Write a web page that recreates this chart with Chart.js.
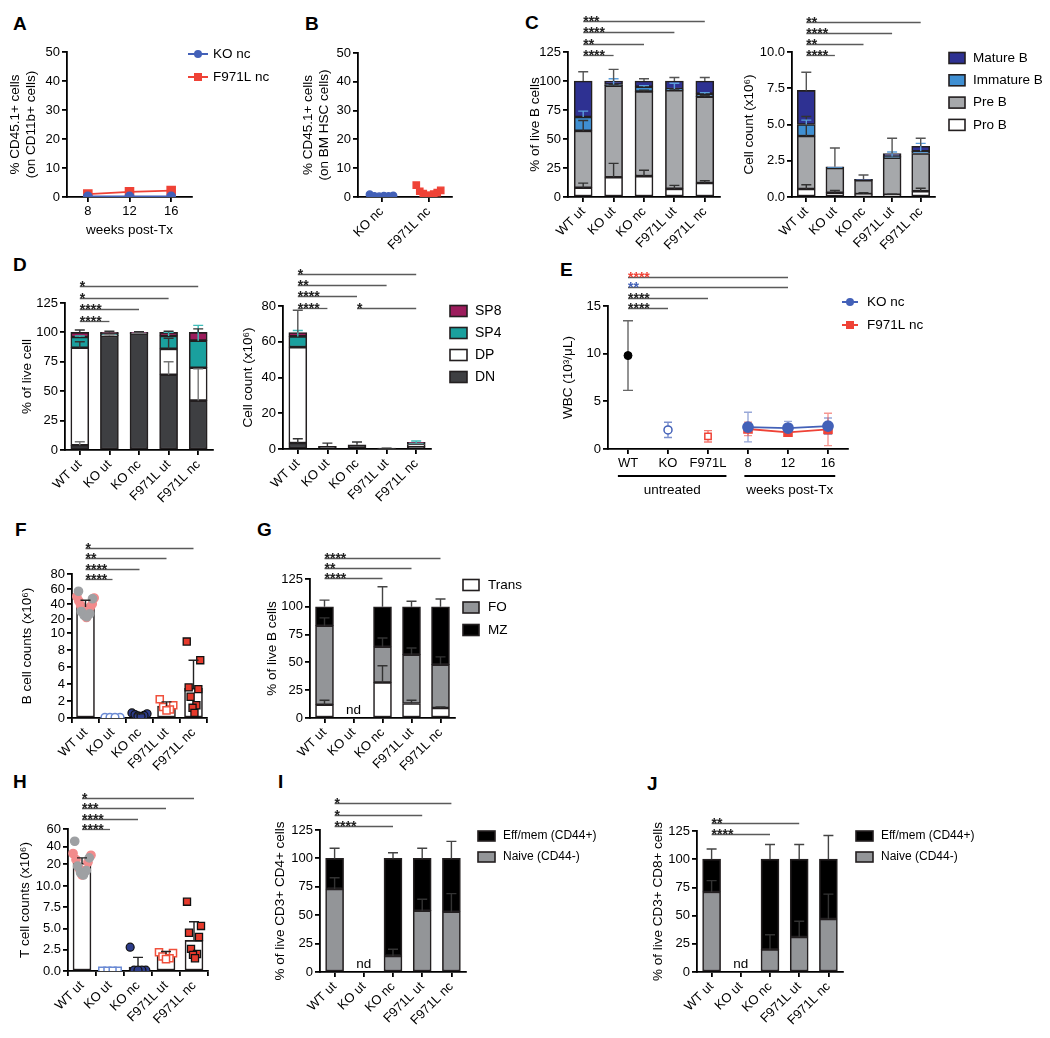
<!DOCTYPE html>
<html>
<head>
<meta charset="utf-8">
<title>Figure</title>
<script src="https://cdn.jsdelivr.net/npm/chart.js@4.4.1/dist/chart.umd.min.js"></script>
<style>
html,body{margin:0;padding:0;background:#fff;}
body{position:relative;width:1050px;height:1038px;overflow:hidden;font-family:Arial,"Liberation Sans",Helvetica,sans-serif;}
canvas{position:absolute;}
.pl{position:absolute;font-weight:bold;font-size:19px;line-height:1;color:#000;}
</style>
</head>
<body>
<div class="pl" style="left:13px;top:14px">A</div>
<div class="pl" style="left:305px;top:14px">B</div>
<div class="pl" style="left:525px;top:13px">C</div>
<div class="pl" style="left:13px;top:255px">D</div>
<div class="pl" style="left:560px;top:260px">E</div>
<div class="pl" style="left:15px;top:520px">F</div>
<div class="pl" style="left:257px;top:520px">G</div>
<div class="pl" style="left:13px;top:772px">H</div>
<div class="pl" style="left:278px;top:772px">I</div>
<div class="pl" style="left:647px;top:774px">J</div>
<script>
const FONT = 'Arial, "Liberation Sans", Helvetica, sans-serif';

// ================= DATA =================
const groups = ['WT ut', 'KO ut', 'KO nc', 'F971L ut', 'F971L nc'];
const ncGroups = ['KO nc', 'F971L nc'];
const weeks = ['8', '12', '16'];
const wbcCats = ['WT', 'KO', 'F971L', '8', '12', '16'];

// A: % CD45.1+ on CD11b+ cells
const aKOnc = [0.2, 0.2, 0.2];
const aF971Lnc = [1.0, 1.8, 2.2];

// B: % CD45.1+ on BM HSC cells
const bKOnc = [0.9, 0.5, 0.3, 0.3, 0.2, 0.4];
const bF971Lnc = [4.1, 2.3, 2.0, 1.5, 1.2, 1.0, 0.6, 0.4];

// C: % of live B cells
const cPctProB = [8, 17, 18, 7, 12];
const cPctPreB = [49, 79, 73, 85, 74.5];
const cPctImmB = [12, 1, 4, 1, 2.5];
const cPctMatB = [31, 3, 5, 7, 11];
const cPctProBErr = [4, 12, 5, 3, 2];
const cPctPreBErr = [9, 1, 1, 1, 1];
const cPctImmBErr = [5, 5, 1, 5, 1];
const cPctMatBErr = [8, 10, 2, 3, 3];

// C: cell count (x10^6)
const cCntProB = [0.55, 0.3, 0.2, 0.15, 0.4];
const cCntPreB = [3.65, 1.7, 0.95, 2.55, 2.6];
const cCntImmB = [0.8, 0.05, 0.05, 0.1, 0.15];
const cCntMatB = [2.35, 0.03, 0.02, 0.2, 0.35];
const cCntProBErr = [0.3, 0.15, 0.1, 0.05, 0.2];
const cCntPreBErr = [1.35, 0, 0, 0, 0];
const cCntImmBErr = [0.3, 0, 0, 0.3, 0.55];
const cCntMatBErr = [1.25, 1.3, 0.3, 1.05, 0.55];

// D: % of live cell
const dPctDN = [4, 97, 99, 64, 42];
const dPctDP = [83, 0.5, 0.3, 22, 28];
const dPctSP4 = [9, 1.5, 0.4, 11, 23];
const dPctSP8 = [4, 1, 0.3, 3, 7];
const dPctDNErr = [3, 1, 0.5, 11, 27];
const dPctDPErr = [5, 0, 0, 9, 0];
const dPctSP4Err = [1, 0, 0, 3, 13];
const dPctSP8Err = [2, 1, 0.5, 1, 3];

// D: cell count (x10^6)
const dCntDN = [3.3, 1.5, 2.4, 0.2, 1.5];
const dCntDP = [53.7, 0, 0, 0, 1.0];
const dCntSP4 = [6, 0, 0, 0, 0.9];
const dCntSP8 = [2.2, 0, 0, 0, 0.3];
const dCntDNErr = [2.4, 1.8, 1.5, 0.2, 0];
const dCntSP4Err = [3.3, 0, 0, 0, 1.1];
const dCntSP8Err = [12.4, 0, 0, 0, 0];

// E: WBC (10^3/uL)
const eUntreatedMean = [9.8, 2.0, 1.33];
const eUntreatedSD = [3.65, 0.8, 0.6];
const eKOncMean = [2.3, 2.2, 2.4];
const eKOncSD = [1.55, 0.7, 0.85];
const eF971LncMean = [2.1, 1.75, 2.05];
const eF971LncSD = [0.7, 0.35, 1.7];

// F: B cell counts (x10^6)
const fTickValues = [0, 2, 4, 6, 8, 10, 20, 40, 60, 80];
const fBarMean = [36, 0.05, 0.35, 1.4, 3.5];
const fBarSD = [9, 0, 0.15, 0.5, 3.3];
const fWTgrey = [57, 47, 30, 27, 25, 23];
const fWTpink = [50, 48, 44, 40, 38, 36, 33, 30, 28, 22];
const fKOut = [0.08, 0.08, 0.08, 0.08];
const fKOnc = [0.6, 0.5, 0.4, 0.3, 0.25, 0.2];
const fF971Lut = [2.2, 1.5, 1.3, 1.0, 0.9];
const fF971Lnc = [9.0, 6.8, 3.6, 3.4, 2.5, 1.5, 1.2, 0.6];

// G: % of live B cells (spleen)
const gTrans = [12, null, 32, 13, 9];
const gFO = [71, null, 32, 44, 39];
const gMZ = [17, null, 36, 43, 52];
const gTransErr = [4, 0, 15, 3, 1];
const gFOErr = [7, 0, 8, 6, 7];
const gMZErr = [6, 0, 18, 5, 7];

// H: T cell counts (x10^6)
const hTickValues = [0, 2.5, 5, 7.5, 10, 20, 40, 60];
const hBarMean = [21, 0.05, 0.45, 2.0, 3.6];
const hBarSD = [6, 0, 1.15, 0.3, 2.2];
const hWTgrey = [46, 27, 19, 17, 16, 15];
const hWTpink = [32, 30, 25, 22, 18, 17, 15];
const hKOut = [0.05, 0.05, 0.05, 0.05];
const hKOnc = [2.8, 0.1, 0.1, 0.1, 0.1];
const hF971Lut = [2.2, 2.1, 1.7, 1.5, 1.4];
const hF971Lnc = [8.15, 5.3, 4.5, 4.0, 2.6, 2.0, 1.9, 1.5];

// I: % of live CD3+ CD4+ cells
const iNaive = [73, null, 14, 54, 53];
const iEff = [27, null, 86, 46, 47];
const iNaiveErr = [10, 0, 6, 10, 16];
const iEffErr = [9, 0, 5, 9, 15];

// J: % of live CD3+ CD8+ cells
const jNaive = [71, null, 20, 31, 47];
const jEff = [29, null, 80, 69, 53];
const jNaiveErr = [10, 0, 13, 14, 22];
const jEffErr = [9, 0, 13, 13, 21];

// significance annotations
const sigC1 = [{a:0,b:1,t:'****',row:0},{a:0,b:2,t:'**',row:1},{a:0,b:3,t:'****',row:2},{a:0,b:4,t:'***',row:3}];
const sigC2 = [{a:0,b:1,t:'****',row:0},{a:0,b:2,t:'**',row:1},{a:0,b:3,t:'****',row:2},{a:0,b:4,t:'**',row:3}];
const sigD1 = [{a:0,b:1,t:'****',row:0},{a:0,b:2,t:'****',row:1},{a:0,b:3,t:'*',row:2},{a:0,b:4,t:'*',row:3}];
const sigD2 = [{a:0,b:1,t:'****',row:0},{a:2,b:4,t:'*',row:0},{a:0,b:2,t:'****',row:1},{a:0,b:3,t:'**',row:2},{a:0,b:4,t:'*',row:3}];
const sigE = [{a:0,b:1,t:'****',row:0},{a:0,b:2,t:'****',row:1},{a:0,b:4,t:'**',row:2,color:'#4361B8'},{a:0,b:4,t:'****',row:3,color:'#EF4236'}];
const sigF = [{a:0,b:1,t:'****',row:0},{a:0,b:2,t:'****',row:1},{a:0,b:3,t:'**',row:2},{a:0,b:4,t:'*',row:3}];
const sigG = [{a:0,b:2,t:'****',row:0},{a:0,b:3,t:'**',row:1},{a:0,b:4,t:'****',row:2}];
const sigH = [{a:0,b:1,t:'****',row:0},{a:0,b:2,t:'****',row:1},{a:0,b:3,t:'***',row:2},{a:0,b:4,t:'*',row:3}];
const sigI = [{a:0,b:2,t:'****',row:0},{a:0,b:3,t:'*',row:1},{a:0,b:4,t:'*',row:2}];
const sigJ = [{a:0,b:2,t:'****',row:0},{a:0,b:3,t:'**',row:1}];

// ================= STYLE / LAYOUT =================
const COL = {
  mature:'#2E3192', immature:'#3F8FD2', pre:'#A6A8AB', pro:'#FFFFFF',
  sp8:'#9C1C5C', sp4:'#1AA09E', dp:'#FFFFFF', dn:'#3E3F42',
  trans:'#FFFFFF', fo:'#939598', mz:'#000000', eff:'#000000', naive:'#939598',
  blue:'#4361B8', red:'#EF4236', edge:'#231F20',
  wtGrey:'#9EA0A3', wtPink:'#F28B8C', koUt:'#6A8AD4', koNc:'#2D3C8A', fUt:'#F0503C', fNc:'#E63A2C'
};
const AXW = 1.8;
const GEO = {
  A:  {x0:67,  x1:192, y0:52,  y1:197, yW:60, xH:41, padT:12, padR:95},
  B:  {x0:358, x1:453, y0:52,  y1:197, yW:58, xH:75, padT:12, padR:12},
  C1: {x0:568, x1:720, y0:52,  y1:197, yW:41, xH:75, padT:48, padR:12},
  C2: {x0:792, x1:935, y0:52,  y1:197, yW:51, xH:75, padT:48, padR:112},
  D1: {x0:65,  x1:213, y0:303, y1:450, yW:46, xH:75, padT:26, padR:12},
  D2: {x0:283, x1:431, y0:306, y1:449, yW:43, xH:75, padT:45, padR:70},
  E:  {x0:608, x1:848, y0:306, y1:449, yW:48, xH:52, padT:42, padR:110},
  F:  {x0:72,  x1:207, y0:574, y1:718, yW:53, xH:75, padT:40, padR:12},
  G:  {x0:310, x1:455, y0:579, y1:718, yW:46, xH:75, padT:36, padR:80},
  H:  {x0:68,  x1:208, y0:829, y1:971, yW:51, xH:67, padT:45, padR:12},
  I:  {x0:320, x1:466, y0:830, y1:972, yW:48, xH:66, padT:40, padR:160},
  J:  {x0:697, x1:843, y0:831, y1:972, yW:47, xH:66, padT:20, padR:160}
};

Chart.defaults.font.family = FONT;
Chart.defaults.font.size = 13;
Chart.defaults.color = '#000';
Chart.defaults.animation = false;
Chart.defaults.events = [];
Chart.defaults.plugins.legend.display = false;
Chart.defaults.plugins.tooltip.enabled = false;

// ---- piecewise (broken) linear scale ----
class BrokenScale extends Chart.LinearScale {
  buildTicks() { return this.options.tickValues.map(v => ({value: v})); }
  _dec(v) {
    const vs = this.options.breaks.values, fs = this.options.breaks.fractions;
    let k = 1;
    while (k < vs.length - 1 && v > vs[k]) k++;
    return fs[k-1] + (v - vs[k-1]) / (vs[k] - vs[k-1]) * (fs[k] - fs[k-1]);
  }
  getPixelForValue(v) {
    if (v === null || v === undefined || isNaN(v)) return NaN;
    return this.getPixelForDecimal(this._dec(v));
  }
  getValueForPixel(p) {
    const d = this.getDecimalForPixel(p);
    const vs = this.options.breaks.values, fs = this.options.breaks.fractions;
    let k = 1;
    while (k < fs.length - 1 && d > fs[k]) k++;
    return vs[k-1] + (d - fs[k-1]) / (fs[k] - fs[k-1]) * (vs[k] - vs[k-1]);
  }
}
BrokenScale.id = 'broken';
BrokenScale.defaults = {};

// ---- plugins ----
function drawErr(chart) {
  const ctx = chart.ctx, ys = chart.scales.y;
  const stacked = !!chart.options.scales.y.stacked;
  const cum = [];
  chart.data.datasets.forEach((ds, i) => {
    const type = ds.type || chart.config.type;
    const meta = chart.getDatasetMeta(i);
    ds.data.forEach((raw, j) => {
      const v = (raw !== null && typeof raw === 'object') ? raw.y : raw;
      if (v === null || v === undefined) return;
      let top = v;
      if (type === 'bar' && stacked) { cum[j] = (cum[j] || 0) + v; top = cum[j]; }
      const up = ds.errUp ? (ds.errUp[j] || 0) : 0;
      const dn = ds.errDown ? (ds.errDown[j] || 0) : 0;
      if (!up && !dn) return;
      const el = meta.data[j]; if (!el) return;
      const x = el.x, cap = ds.errCap || 5;
      const yT = ys.getPixelForValue(top + up), yB = ys.getPixelForValue(top - dn);
      ctx.save();
      ctx.strokeStyle = ds.errColor || '#333';
      ctx.lineWidth = ds.errWidth || 1.4;
      ctx.beginPath();
      ctx.moveTo(x, yB); ctx.lineTo(x, yT);
      if (up) { ctx.moveTo(x - cap, yT); ctx.lineTo(x + cap, yT); }
      if (dn) { ctx.moveTo(x - cap, yB); ctx.lineTo(x + cap, yB); }
      ctx.stroke();
      ctx.restore();
    });
  });
}
const errPlugin = {
  id: 'errbars',
  beforeDatasetsDraw(chart, a, o) { if (o && o.behind) drawErr(chart); },
  afterDatasetsDraw(chart, a, o) { if (!(o && o.behind)) drawErr(chart); }
};
const sigPlugin = {
  id: 'sig',
  afterDraw(chart, a, o) {
    if (!o || !o.items) return;
    const ctx = chart.ctx, ca = chart.chartArea, xs = chart.scales.x;
    o.items.forEach(it => {
      const y = Math.round(ca.top + o.base - it.row * o.step) + 0.5;
      const xa = xs.getPixelForValue(it.a), xb = xs.getPixelForValue(it.b);
      ctx.save();
      ctx.strokeStyle = '#5a5a5a'; ctx.lineWidth = 1.3;
      ctx.beginPath(); ctx.moveTo(xa, y); ctx.lineTo(xb, y); ctx.stroke();
      ctx.fillStyle = it.color || '#222';
      ctx.font = 'bold 14px ' + FONT;
      ctx.textAlign = 'left'; ctx.textBaseline = 'alphabetic';
      ctx.fillText(it.t, xa, y + 4.5);
      ctx.restore();
    });
  }
};
function marker(ctx, style, x, y, r) {
  ctx.beginPath();
  if (style === 'rect') ctx.rect(x - r, y - r, 2 * r, 2 * r); else ctx.arc(x, y, r, 0, Math.PI * 2);
  ctx.fill();
}
const legPlugin = {
  id: 'leg',
  afterDraw(chart, a, o) {
    if (!o || !o.items) return;
    const ctx = chart.ctx, ca = chart.chartArea;
    o.items.forEach((di, k) => {
      const ds = chart.data.datasets[di];
      const x0 = ca.right + o.dx, cy = ca.top + o.dy + k * o.rowH;
      ctx.save();
      if (o.kind === 'box') {
        ctx.fillStyle = ds.backgroundColor;
        ctx.fillRect(x0, cy - o.boxH / 2, o.boxW, o.boxH);
        ctx.strokeStyle = COL.edge; ctx.lineWidth = 1.6;
        ctx.strokeRect(x0, cy - o.boxH / 2, o.boxW, o.boxH);
      } else {
        ctx.strokeStyle = ds.borderColor; ctx.lineWidth = 2;
        ctx.beginPath(); ctx.moveTo(x0, cy); ctx.lineTo(x0 + o.lineW, cy); ctx.stroke();
        ctx.fillStyle = ds.backgroundColor;
        marker(ctx, ds.pointStyle, x0 + o.lineW / 2, cy, 4);
      }
      ctx.fillStyle = '#000';
      ctx.font = o.size + 'px ' + FONT;
      ctx.textAlign = 'left'; ctx.textBaseline = 'middle';
      ctx.fillText(ds.label, x0 + o.textDx, cy);
      ctx.restore();
    });
  }
};
const ndPlugin = {
  id: 'nd',
  afterDraw(chart, a, o) {
    if (!o || o.idx === undefined) return;
    const ctx = chart.ctx;
    ctx.save();
    ctx.fillStyle = '#000'; ctx.font = '13.5px ' + FONT;
    ctx.textAlign = 'center'; ctx.textBaseline = 'middle';
    ctx.fillText(o.text, chart.scales.x.getPixelForValue(o.idx), chart.chartArea.bottom + o.dy);
    ctx.restore();
  }
};
const groupPlugin = {
  id: 'groupAxis',
  afterDraw(chart, a, o) {
    if (!o || !o.groups) return;
    const ctx = chart.ctx, xs = chart.scales.x, labels = xs.getLabels();
    ctx.save();
    o.groups.forEach(g => {
      ctx.font = '13px ' + FONT;
      const xa = xs.getPixelForValue(g.from) - ctx.measureText(labels[g.from]).width / 2;
      const xb = xs.getPixelForValue(g.to) + ctx.measureText(labels[g.to]).width / 2;
      const y = chart.chartArea.bottom + o.lineDy;
      ctx.strokeStyle = '#000'; ctx.lineWidth = AXW;
      ctx.beginPath(); ctx.moveTo(xa, y); ctx.lineTo(xb, y); ctx.stroke();
      ctx.fillStyle = '#000'; ctx.font = '13.5px ' + FONT;
      ctx.textAlign = 'center'; ctx.textBaseline = 'middle';
      ctx.fillText(g.text, (xa + xb) / 2, y + o.textDy);
    });
    ctx.restore();
  }
};
Chart.register(BrokenScale, errPlugin, sigPlugin, legPlugin, ndPlugin, groupPlugin);

// ---- helpers ----
function mk(g, cfg) {
  const cv = document.createElement('canvas');
  const W = g.yW + (g.x1 - g.x0) + g.padR;
  const H = g.padT + (g.y1 - g.y0) + g.xH;
  cv.width = W; cv.height = H;
  cv.style.left = (g.x0 - g.yW) + 'px';
  cv.style.top = (g.y0 - g.padT) + 'px';
  cv.style.width = W + 'px'; cv.style.height = H + 'px';
  document.body.appendChild(cv);
  const o = cfg.options;
  o.responsive = false; o.maintainAspectRatio = false; o.devicePixelRatio = 1; o.animation = false;
  o.layout = {padding: {top: g.padT, right: g.padR, left: 0, bottom: 0}};
  o.scales.y.afterFit = s => { s.width = g.yW; };
  o.scales.x.afterFit = s => { s.height = g.xH; };
  return new Chart(cv.getContext('2d'), cfg);
}
function yScale(o) {
  const s = {
    type: o.type || 'linear', min: o.min, max: o.max, stacked: !!o.stacked,
    border: {display: true, color: '#000', width: AXW},
    grid: {drawOnChartArea: false, drawTicks: true, tickLength: 5, color: '#000', lineWidth: AXW},
    ticks: {padding: 2, color: '#000', font: {size: 13}, autoSkip: false},
    title: {display: true, text: o.title, padding: 0, color: '#000', font: {size: 13.5}}
  };
  if (o.step) s.ticks.stepSize = o.step;
  if (o.fmt) s.ticks.callback = o.fmt;
  if (o.tickValues) s.tickValues = o.tickValues;
  if (o.breaks) s.breaks = o.breaks;
  return s;
}
function xScale(o) {
  const rot = (o.rot === undefined) ? 45 : o.rot;
  return {
    type: 'category', labels: o.labels, offset: true, stacked: !!o.stacked,
    border: {display: true, color: '#000', width: AXW},
    grid: {display: true, drawOnChartArea: false, drawTicks: true, tickLength: 5, color: '#000', lineWidth: AXW, offset: false},
    ticks: {maxRotation: rot, minRotation: rot, autoSkip: false, padding: 2, color: '#000', font: {size: 13}},
    title: o.title ? {display: true, text: o.title, padding: 0, color: '#000', font: {size: 13.5}} : {display: false}
  };
}
// numeric group axis (lets jittered dots and bars share one scale)
function xGroupLinear(labels) {
  return {
    type: 'linear', min: -0.5, max: labels.length - 0.5, offset: false,
    afterBuildTicks: s => { s.ticks = labels.map((_, i) => ({value: i})); },
    border: {display: true, color: '#000', width: AXW},
    grid: {display: true, drawOnChartArea: false, drawTicks: true, tickLength: 5, color: '#000', lineWidth: AXW},
    ticks: {maxRotation: 45, minRotation: 45, autoSkip: false, padding: 2, color: '#000', font: {size: 13},
            callback: v => (labels[v] !== undefined ? labels[v] : '')},
    title: {display: false}
  };
}
function jit(i, n, w) {
  if (n < 2) return 0;
  const k = (i % 2 === 0) ? i / 2 : n - 1 - (i - 1) / 2;
  return -w + 2 * w * k / (n - 1);
}
function dots(label, vals, idx, w, st) {
  return Object.assign({type: 'scatter', label, order: 1,
    data: vals.map((v, i) => ({x: idx + jit(i, vals.length, w), y: v})),
    pointRadius: 4, borderWidth: 1.3}, st);
}
function meanMark(vals, idx, color) {
  const m = vals.reduce((s, v) => s + v, 0) / vals.length;
  return {type: 'scatter', label: 'mean', order: 0, data: [{x: idx, y: m}],
    pointStyle: 'line', pointRadius: 11, borderColor: color, borderWidth: 2};
}
function seg(label, data, color, err, errColor) {
  return {type: 'bar', label, data, backgroundColor: color, borderColor: COL.edge, borderWidth: 1.6,
    borderSkipped: false, barThickness: 18, errUp: err, errColor: errColor || '#333', order: 2};
}
function meanBar(vals, err) {
  return {type: 'bar', label: 'mean', data: vals.map((v, i) => ({x: i, y: v})), backgroundColor: '#fff',
    borderColor: COL.edge, borderWidth: 1.6, borderSkipped: false, barThickness: 18,
    errUp: err, errColor: '#222', order: 2};
}
function stackedChart(g, segs, yOpt, plugins) {
  return mk(g, {
    type: 'bar',
    data: {labels: groups, datasets: segs},
    options: {
      scales: {x: xScale({labels: groups, stacked: true}), y: yScale(Object.assign({stacked: true}, yOpt))},
      plugins: plugins
    }
  });
}
const ST = {
  wtGrey: {pointStyle: 'circle', pointRadius: 4.2, backgroundColor: COL.wtGrey, borderColor: COL.wtGrey},
  wtPink: {pointStyle: 'circle', pointRadius: 4.2, backgroundColor: COL.wtPink, borderColor: COL.wtPink},
  koUtCirc: {pointStyle: 'circle', pointRadius: 3.8, backgroundColor: '#fff', borderColor: COL.koUt, borderWidth: 1.5},
  koUtRect: {pointStyle: 'rect', pointRadius: 4.8, backgroundColor: '#fff', borderColor: COL.koUt, borderWidth: 1.5},
  koNc: {pointStyle: 'circle', pointRadius: 4, backgroundColor: COL.koNc, borderColor: '#111', borderWidth: 1.2},
  fUt: {pointStyle: 'rect', pointRadius: 5, backgroundColor: '#fff', borderColor: COL.fUt, borderWidth: 1.5},
  fNc: {pointStyle: 'rect', pointRadius: 5, backgroundColor: COL.fNc, borderColor: '#111', borderWidth: 1.3}
};
const fmt1 = v => v.toFixed(1);

// ================= PANELS =================
// A
mk(GEO.A, {
  type: 'line',
  data: {labels: weeks, datasets: [
    {label: 'KO nc', data: aKOnc, borderColor: COL.blue, backgroundColor: COL.blue, pointStyle: 'circle', pointRadius: 4, borderWidth: 1.8},
    {label: 'F971L nc', data: aF971Lnc, borderColor: COL.red, backgroundColor: COL.red, pointStyle: 'rect', pointRadius: 5.5, borderWidth: 1.8}
  ]},
  options: {
    scales: {x: xScale({labels: weeks, rot: 0, title: 'weeks post-Tx'}),
             y: yScale({min: 0, max: 50, step: 10, title: ['% CD45.1+ cells', '(on CD11b+ cells)']})},
    plugins: {leg: {kind: 'line', dx: -4, dy: 2, rowH: 23, lineW: 20, textDx: 25, size: 13.5, items: [0, 1]}}
  }
});

// B
mk(GEO.B, {
  type: 'scatter',
  data: {datasets: [
    dots('KO nc', bKOnc, 0, 0.25, {pointStyle: 'circle', pointRadius: 3.5, backgroundColor: COL.blue, borderColor: COL.blue}),
    dots('F971L nc', bF971Lnc, 1, 0.26, {pointStyle: 'rect', pointRadius: 4.5, backgroundColor: COL.red, borderColor: COL.red}),
    meanMark(bKOnc, 0, 'rgba(67,97,184,0.55)'),
    meanMark(bF971Lnc, 1, 'rgba(239,66,54,0.45)')
  ]},
  options: {
    scales: {x: xGroupLinear(ncGroups),
             y: yScale({min: 0, max: 50, step: 10, title: ['% CD45.1+ cells', '(on BM HSC cells)']})},
    plugins: {}
  }
});

// C left
stackedChart(GEO.C1, [
  seg('Pro B', cPctProB, COL.pro, cPctProBErr),
  seg('Pre B', cPctPreB, COL.pre, cPctPreBErr),
  seg('Immature B', cPctImmB, COL.immature, cPctImmBErr, '#5b9fdc'),
  seg('Mature B', cPctMatB, COL.mature, cPctMatBErr, '#555')
], {min: 0, max: 125, step: 25, title: '% of live B cells'},
{sig: {base: 3, step: 11.3, items: sigC1}});

// C right
stackedChart(GEO.C2, [
  seg('Pro B', cCntProB, COL.pro, cCntProBErr),
  seg('Pre B', cCntPreB, COL.pre, cCntPreBErr),
  seg('Immature B', cCntImmB, COL.immature, cCntImmBErr, '#5b9fdc'),
  seg('Mature B', cCntMatB, COL.mature, cCntMatBErr, '#555')
], {min: 0, max: 10, step: 2.5, fmt: fmt1, title: 'Cell count (x10⁶)'},
{sig: {base: 3, step: 11, items: sigC2},
 leg: {kind: 'box', dx: 14, dy: 6, rowH: 22.3, boxW: 16, boxH: 11, textDx: 24, size: 13.5, items: [3, 2, 1, 0]}});

// D left
stackedChart(GEO.D1, [
  seg('DN', dPctDN, COL.dn, dPctDNErr, '#777'),
  seg('DP', dPctDP, COL.dp, dPctDPErr),
  seg('SP4', dPctSP4, COL.sp4, dPctSP4Err, '#3fbcb8'),
  seg('SP8', dPctSP8, COL.sp8, dPctSP8Err)
], {min: 0, max: 125, step: 25, title: '% of live cell'},
{sig: {base: 18, step: 11.7, items: sigD1}});

// D right
stackedChart(GEO.D2, [
  seg('DN', dCntDN, COL.dn, dCntDNErr),
  seg('DP', dCntDP, COL.dp, null),
  seg('SP4', dCntSP4, COL.sp4, dCntSP4Err, '#3fbcb8'),
  seg('SP8', dCntSP8, COL.sp8, dCntSP8Err, '#555')
], {min: 0, max: 80, step: 20, title: 'Cell count (x10⁶)'},
{sig: {base: 1.5, step: 11.3, items: sigD2},
 leg: {kind: 'box', dx: 19, dy: 5, rowH: 22, boxW: 17, boxH: 11, textDx: 25, size: 14, items: [3, 2, 1, 0]}});

// E
const padE = (arr, start) => wbcCats.map((_, i) => (i >= start && i < start + arr.length) ? arr[i - start] : null);
mk(GEO.E, {
  type: 'line',
  data: {labels: wbcCats, datasets: [
    {label: 'KO nc', data: padE(eKOncMean, 3), borderColor: COL.blue, backgroundColor: COL.blue, pointStyle: 'circle',
     pointRadius: 5, borderWidth: 1.8, errUp: padE(eKOncSD, 3), errDown: padE(eKOncSD, 3), errColor: 'rgba(67,97,184,0.55)', errCap: 4},
    {label: 'F971L nc', data: padE(eF971LncMean, 3), borderColor: COL.red, backgroundColor: COL.red, pointStyle: 'rect',
     pointRadius: 5.5, borderWidth: 1.8, errUp: padE(eF971LncSD, 3), errDown: padE(eF971LncSD, 3), errColor: 'rgba(239,66,54,0.55)', errCap: 4},
    {label: 'WT', data: padE(eUntreatedMean.slice(0, 1), 0), showLine: false, pointStyle: 'circle', pointRadius: 4,
     backgroundColor: '#000', borderColor: '#000', errUp: padE(eUntreatedSD.slice(0, 1), 0), errDown: padE(eUntreatedSD.slice(0, 1), 0), errColor: '#666', errCap: 5},
    {label: 'KO', data: padE(eUntreatedMean.slice(1, 2), 1), showLine: false, pointStyle: 'circle', pointRadius: 4, borderWidth: 1.5,
     backgroundColor: '#fff', borderColor: COL.blue, errUp: padE(eUntreatedSD.slice(1, 2), 1), errDown: padE(eUntreatedSD.slice(1, 2), 1), errColor: 'rgba(67,97,184,0.7)', errCap: 4},
    {label: 'F971L', data: padE(eUntreatedMean.slice(2, 3), 2), showLine: false, pointStyle: 'rect', pointRadius: 4.5, borderWidth: 1.5,
     backgroundColor: '#fff', borderColor: COL.red, errUp: padE(eUntreatedSD.slice(2, 3), 2), errDown: padE(eUntreatedSD.slice(2, 3), 2), errColor: 'rgba(239,66,54,0.7)', errCap: 4}
  ]},
  options: {
    spanGaps: false,
    scales: {x: xScale({labels: wbcCats, rot: 0}), y: yScale({min: 0, max: 15, step: 5, title: 'WBC (10³/μL)'})},
    plugins: {
      errbars: {behind: true},
      sig: {base: 2, step: 10.3, items: sigE},
      leg: {kind: 'line', dx: -6, dy: -4, rowH: 23, lineW: 16, textDx: 25, size: 13.5, items: [0, 1]},
      groupAxis: {lineDy: 27, textDy: 14, groups: [{from: 0, to: 2, text: 'untreated'}, {from: 3, to: 5, text: 'weeks post-Tx'}]}
    }
  }
});

// F
mk(GEO.F, {
  type: 'bar',
  data: {datasets: [
    meanBar(fBarMean, fBarSD),
    dots('WT ut', fWTgrey, 0, 0.26, ST.wtGrey),
    dots('WT ut', fWTpink, 0, 0.32, ST.wtPink),
    dots('KO ut', fKOut, 1, 0.28, ST.koUtCirc),
    dots('KO nc', fKOnc, 2, 0.28, ST.koNc),
    dots('F971L ut', fF971Lut, 3, 0.25, ST.fUt),
    dots('F971L nc', fF971Lnc, 4, 0.25, ST.fNc)
  ]},
  options: {
    scales: {x: xGroupLinear(groups),
             y: yScale({type: 'broken', min: 0, max: 80, tickValues: fTickValues,
                        breaks: {values: [0, 10, 20, 80], fractions: [0, 0.590, 0.6875, 1]},
                        fmt: v => String(v), title: 'B cell counts (x10⁶)'})},
    plugins: {sig: {base: 5, step: 10.3, items: sigF}}
  }
});

// G
stackedChart(GEO.G, [
  seg('Trans', gTrans, COL.trans, gTransErr),
  seg('FO', gFO, COL.fo, gFOErr),
  seg('MZ', gMZ, COL.mz, gMZErr, '#444')
], {min: 0, max: 125, step: 25, title: '% of live B cells'},
{sig: {base: -1, step: 10, items: sigG},
 nd: {idx: 1, text: 'nd', dy: -8},
 leg: {kind: 'box', dx: 8, dy: 6, rowH: 22.5, boxW: 16, boxH: 11, textDx: 25, size: 13.5, items: [0, 1, 2]}});

// H
mk(GEO.H, {
  type: 'bar',
  data: {datasets: [
    meanBar(hBarMean, hBarSD),
    dots('WT ut', hWTgrey, 0, 0.26, ST.wtGrey),
    dots('WT ut', hWTpink, 0, 0.32, ST.wtPink),
    dots('KO ut', hKOut, 1, 0.28, ST.koUtRect),
    dots('KO nc', hKOnc, 2, 0.28, ST.koNc),
    dots('F971L ut', hF971Lut, 3, 0.25, ST.fUt),
    dots('F971L nc', hF971Lnc, 4, 0.25, ST.fNc)
  ]},
  options: {
    scales: {x: xGroupLinear(groups),
             y: yScale({type: 'broken', min: 0, max: 60, tickValues: hTickValues,
                        breaks: {values: [0, 10, 20, 60], fractions: [0, 0.5986, 0.7535, 1]},
                        fmt: v => (v <= 10 ? v.toFixed(1) : String(v)), title: 'T cell counts (x10⁶)'})},
    plugins: {sig: {base: 0, step: 10.5, items: sigH}}
  }
});

// I
stackedChart(GEO.I, [
  seg('Naive (CD44-)', iNaive, COL.naive, iNaiveErr),
  seg('Eff/mem (CD44+)', iEff, COL.eff, iEffErr, '#444')
], {min: 0, max: 125, step: 25, title: '% of live CD3+ CD4+ cells'},
{sig: {base: -4, step: 11.5, items: sigI},
 nd: {idx: 1, text: 'nd', dy: -8},
 leg: {kind: 'box', dx: 12, dy: 6, rowH: 21, boxW: 17, boxH: 10, textDx: 25, size: 12, items: [1, 0]}});

// J
stackedChart(GEO.J, [
  seg('Naive (CD44-)', jNaive, COL.naive, jNaiveErr),
  seg('Eff/mem (CD44+)', jEff, COL.eff, jEffErr, '#444')
], {min: 0, max: 125, step: 25, title: '% of live CD3+ CD8+ cells'},
{sig: {base: 3, step: 11, items: sigJ},
 nd: {idx: 1, text: 'nd', dy: -8},
 leg: {kind: 'box', dx: 13, dy: 5, rowH: 21, boxW: 17, boxH: 10, textDx: 25, size: 12, items: [1, 0]}});
</script>
</body>
</html>
